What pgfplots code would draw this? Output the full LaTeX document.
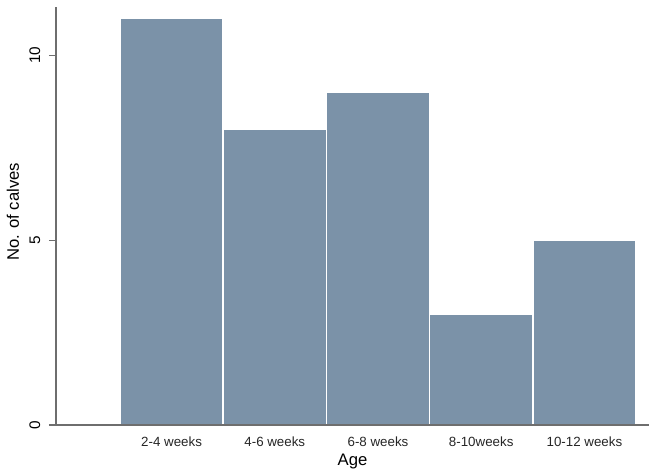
\documentclass[border=0pt]{standalone}
\usepackage{pgfplots}
\pgfplotsset{compat=1.18}
\usepackage{fontspec}
\setmainfont{Liberation Sans}
\definecolor{barcol}{HTML}{7B92A8}
\definecolor{axcol}{HTML}{6E6E6E}
\begin{document}
\begin{tikzpicture}
\path[use as bounding box] (-42pt,-36.75pt) rectangle (447.75pt,318.75pt);
\begin{axis}[
  scale only axis,
  width=444.75pt, height=313.5pt,
  xmin=-0.12, xmax=5.626,
  ymin=0, ymax=11.3,
  axis on top,
  axis x line=bottom, axis y line=left,
  axis line style={draw=axcol, line width=0.8pt, -},
  xtick={1,2,3,4,5},
  xticklabels={2-4 weeks,4-6 weeks,6-8 weeks,8-10weeks,10-12 weeks},
  major x tick style={draw=none},
  ytick={0,5,10},
  tick align=outside,
  major tick length=5.25pt,
  major y tick style={draw=axcol, line width=0.8pt},
  yticklabel style={rotate=90, anchor=south, font=\fontsize{11.5}{12}\selectfont},
  yticklabel shift=3pt,
  xticklabel style={font=\fontsize{10}{11}\selectfont, text=black!85},
  /pgf/number format/assume math mode=true,
  xlabel={Age}, ylabel={No. of calves},
  label style={font=\fontsize{12.5}{14}\selectfont},
  xlabel style={at={(axis description cs:0.5,0)}, anchor=north, yshift=-18.3pt},
  ylabel style={at={(axis description cs:-0.0725,0.51)}, anchor=center},
  clip=false,
]
\addplot[ybar, bar width=1, fill=barcol, draw=white, line width=1.2pt]
  coordinates {(1,11) (2,8) (3,9) (4,3) (5,5)};
\end{axis}
\end{tikzpicture}
\end{document}
